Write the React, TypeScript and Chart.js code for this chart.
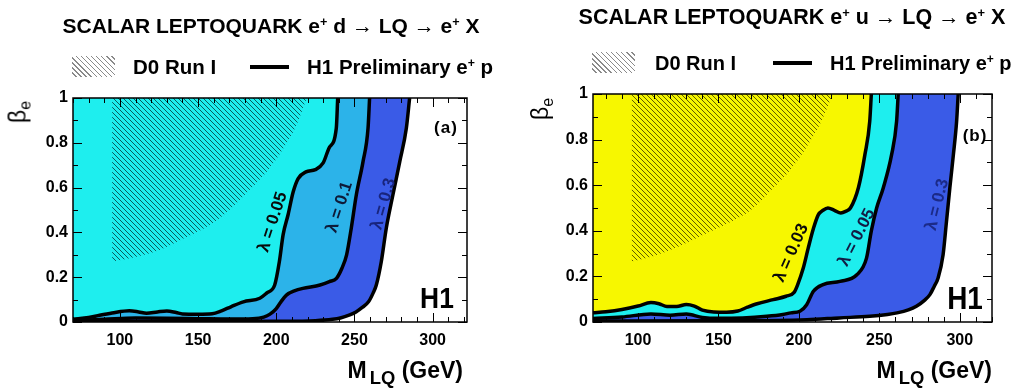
import React, { useEffect, useRef } from "react";
import { Chart, registerables } from "chart.js";

Chart.register(...registerables);

// ---------------- data ----------------
const xTicks = [100, 150, 200, 250, 300];
const yTicks = [0, 0.2, 0.4, 0.6, 0.8, 1];
const yTickLabels = ["0", "0.2", "0.4", "0.6", "0.8", "1"];

// panel (a): e+ d -> LQ -> e+ X
const massA_D0 = [95, 110, 125, 140, 159, 170, 183, 195, 205, 213, 219.5];
const betaA_D0 = [0.27, 0.29, 0.32, 0.37, 0.44, 0.5, 0.59, 0.68, 0.78, 0.88, 1];

const massA_l005 = [70, 80, 87, 95, 106, 112, 117, 124, 130, 136, 140, 150, 159, 165, 171, 179, 189.5, 194, 199, 202, 204.4, 207.6, 210.8, 214, 219, 225, 230, 234, 238.4, 239.3];
const betaA_l005 = [0.012, 0.02, 0.03, 0.04, 0.05, 0.045, 0.039, 0.045, 0.049, 0.042, 0.036, 0.035, 0.037, 0.05, 0.068, 0.09, 0.106, 0.13, 0.165, 0.27, 0.39, 0.48, 0.58, 0.64, 0.67, 0.68, 0.71, 0.78, 0.865, 1];

const massA_l01 = [70, 90, 110, 130, 150, 170, 185, 192, 196, 200, 203, 206.5, 212, 217, 228, 234, 238.5, 242, 245, 248, 251.2, 255.5, 258.7, 259.7];
const betaA_l01 = [0.006, 0.012, 0.018, 0.017, 0.015, 0.013, 0.015, 0.022, 0.035, 0.06, 0.09, 0.12, 0.14, 0.15, 0.165, 0.18, 0.195, 0.24, 0.3, 0.42, 0.567, 0.716, 0.865, 1];

const massA_l03 = [70, 150, 200, 225, 236, 241, 247, 251, 255, 259, 262, 264, 267.2, 270.4, 274.6, 279, 283.2, 285.3];
const betaA_l03 = [0.002, 0.002, 0.003, 0.006, 0.012, 0.018, 0.032, 0.045, 0.065, 0.09, 0.13, 0.165, 0.27, 0.42, 0.567, 0.716, 0.865, 1];

// panel (b): e+ u -> LQ -> e+ X
const massB_D0 = [96, 110, 125, 140, 155, 170, 183, 195, 205, 214, 221];
const betaB_D0 = [0.265, 0.29, 0.33, 0.38, 0.43, 0.49, 0.58, 0.67, 0.77, 0.88, 1];

const massB_l003 = [72, 80, 90, 100, 108, 113, 118, 124, 130, 135, 140, 147, 155, 162, 168, 174, 184, 192, 197, 199, 202.7, 205.8, 209, 212, 215, 218, 222, 226, 229, 232, 237, 241, 244, 245];
const betaB_l003 = [0.04, 0.045, 0.055, 0.07, 0.085, 0.08, 0.068, 0.068, 0.077, 0.07, 0.052, 0.044, 0.043, 0.048, 0.065, 0.08, 0.098, 0.113, 0.13, 0.16, 0.237, 0.325, 0.41, 0.47, 0.49, 0.5, 0.49, 0.478, 0.485, 0.5, 0.59, 0.734, 0.88, 1];

const massB_l005 = [72, 90, 108, 120, 130, 140, 150, 165, 180, 190, 195, 200.6, 204.8, 209, 215, 225.5, 236, 242, 245, 248.3, 252.4, 257.6, 260.7, 261.7];
const betaB_l005 = [0.015, 0.022, 0.035, 0.03, 0.035, 0.02, 0.016, 0.018, 0.025, 0.033, 0.04, 0.047, 0.076, 0.135, 0.164, 0.178, 0.207, 0.28, 0.4, 0.5, 0.588, 0.734, 0.88, 1];

const massB_l03 = [72, 150, 205, 225, 244, 255, 261, 268, 273, 278, 281.4, 284, 286.5, 289.6, 291.7, 293.8, 296, 298, 299];
const betaB_l03 = [0.004, 0.005, 0.01, 0.018, 0.025, 0.033, 0.04, 0.053, 0.069, 0.095, 0.12, 0.155, 0.193, 0.295, 0.44, 0.588, 0.734, 0.88, 1];

// ---------------- styles ----------------
const FONT = '"Liberation Sans", Arial, Helvetica, sans-serif';
const CYAN = "#1EEEEE";
const AZURE = "#2CB3E9";
const ROYAL = "#3A5BE7";
const YELLOW = "#F7F700";

interface Curve { m: number[]; b: number[]; color: string }
interface Label { text: string; m: number; b: number; angle: number; color: string }
interface PanelSpec {
  left: number;
  width: number;
  xMin: number;
  xMax: number;
  yAxisWidth: number;
  padTop: number;
  padRight: number;
  d0m: number[];
  d0b: number[];
  curves: Curve[];
  labels: Label[];
}

const panelA: PanelSpec = {
  left: 0, width: 507, xMin: 70, xMax: 322, yAxisWidth: 73, padTop: 98, padRight: 40,
  d0m: massA_D0, d0b: betaA_D0,
  curves: [
    { m: massA_l005, b: betaA_l005, color: CYAN },
    { m: massA_l01, b: betaA_l01, color: AZURE },
    { m: massA_l03, b: betaA_l03, color: ROYAL },
  ],
  labels: [
    { text: "λ = 0.05", m: 197.8, b: 0.446, angle: -72, color: "#0a0a0a" },
    { text: "λ = 0.1", m: 240.6, b: 0.513, angle: -72, color: "#0e1a38" },
    { text: "λ = 0.3", m: 268.7, b: 0.527, angle: -74, color: "#18247c" },
  ],
};

const panelB: PanelSpec = {
  left: 507, width: 507, xMin: 72, xMax: 320, yAxisWidth: 86, padTop: 94, padRight: 22,
  d0m: massB_D0, d0b: betaB_D0,
  curves: [
    { m: massB_l003, b: betaB_l003, color: YELLOW },
    { m: massB_l005, b: betaB_l005, color: CYAN },
    { m: massB_l03, b: betaB_l03, color: ROYAL },
  ],
  labels: [
    { text: "λ = 0.03", m: 195.3, b: 0.303, angle: -66, color: "#0a0a0a" },
    { text: "λ = 0.05", m: 236, b: 0.37, angle: -63, color: "#121c44" },
    { text: "λ = 0.3", m: 286, b: 0.515, angle: -76, color: "#1b2a88" },
  ],
};

const toPoints = (xs: number[], ys: number[]) => xs.map((x, i) => ({ x, y: ys[i] }));

function hatchPattern(ctx: CanvasRenderingContext2D, color: string) {
  const s = 5;
  const c = document.createElement("canvas");
  c.width = s;
  c.height = s;
  const g = c.getContext("2d")!;
  g.strokeStyle = color;
  g.lineWidth = 1;
  g.beginPath();
  g.moveTo(-1, -1); g.lineTo(s + 1, s + 1);
  g.moveTo(-1, s - 1); g.lineTo(1, s + 1);
  g.moveTo(s - 1, -1); g.lineTo(s + 1, 1);
  g.stroke();
  return ctx.createPattern(c, "repeat")!;
}

const framePlugin = {
  id: "frameTicks",
  afterDatasetsDraw(chart: any) {
    const { ctx, chartArea: a, scales } = chart;
    const x = scales.x, y = scales.y;
    ctx.save();
    ctx.strokeStyle = "#000";
    ctx.lineWidth = 1;
    ctx.beginPath();
    for (let v = Math.ceil(x.min / 10) * 10; v <= x.max + 1e-9; v += 10) {
      const p = Math.round(x.getPixelForValue(v)) + 0.5;
      const L = v % 50 === 0 ? 9 : 5;
      ctx.moveTo(p, a.bottom); ctx.lineTo(p, a.bottom - L);
      ctx.moveTo(p, a.top); ctx.lineTo(p, a.top + L);
    }
    for (let i = 0; i <= 10; i++) {
      const p = Math.round(y.getPixelForValue(i / 10)) + 0.5;
      const L = i % 2 === 0 ? 9 : 5;
      ctx.moveTo(a.left, p); ctx.lineTo(a.left + L, p);
      ctx.moveTo(a.right, p); ctx.lineTo(a.right - L, p);
    }
    ctx.stroke();
    ctx.lineWidth = 1.5;
    ctx.strokeRect(a.left, a.top, a.right - a.left, a.bottom - a.top);
    ctx.restore();
  },
};

function labelPlugin(labels: Label[]) {
  return {
    id: "lambdaLabels",
    afterDatasetsDraw(chart: any) {
      const { ctx, scales } = chart;
      labels.forEach((l) => {
        ctx.save();
        ctx.translate(scales.x.getPixelForValue(l.m), scales.y.getPixelForValue(l.b));
        ctx.rotate((l.angle * Math.PI) / 180);
        ctx.font = `bold 17px ${FONT}`;
        ctx.fillStyle = l.color;
        ctx.textAlign = "center";
        ctx.textBaseline = "middle";
        ctx.fillText(l.text, 0, 0);
        ctx.restore();
      });
    },
  };
}

function Panel({ spec }: { spec: PanelSpec }) {
  const ref = useRef<HTMLCanvasElement>(null);
  useEffect(() => {
    const canvas = ref.current!;
    const ctx = canvas.getContext("2d")!;
    const tickFont = { family: FONT, size: 16, weight: "bold" as const };
    const datasets: any[] = [
      {
        data: toPoints(spec.d0m, spec.d0b),
        borderWidth: 0,
        borderColor: "rgba(0,0,0,0)",
        backgroundColor: hatchPattern(ctx, "rgba(0,0,0,0.62)"),
        fill: "end",
        pointRadius: 0,
        cubicInterpolationMode: "monotone",
      },
      ...spec.curves.map((c) => ({
        data: toPoints(c.m, c.b),
        borderColor: "#000",
        borderWidth: 3.5,
        backgroundColor: c.color,
        fill: "end",
        pointRadius: 0,
        cubicInterpolationMode: "monotone",
      })),
    ];
    const chart = new Chart(ctx, {
      type: "line",
      data: { datasets },
      options: {
        animation: false,
        responsive: false,
        events: [],
        layout: { padding: { left: 0, top: spec.padTop, right: spec.padRight, bottom: 0 } },
        plugins: { legend: { display: false }, tooltip: { enabled: false }, title: { display: false } },
        scales: {
          x: {
            type: "linear",
            min: spec.xMin,
            max: spec.xMax,
            grid: { display: false, drawTicks: false },
            border: { display: false },
            afterBuildTicks: (s: any) => { s.ticks = xTicks.map((v) => ({ value: v })); },
            afterFit: (s: any) => { s.height = 66; },
            ticks: { font: tickFont, color: "#000", padding: 9, maxRotation: 0, autoSkip: false, callback: (v: any) => String(v) },
          },
          y: {
            type: "linear",
            min: 0,
            max: 1,
            grid: { display: false, drawTicks: false },
            border: { display: false },
            afterBuildTicks: (s: any) => { s.ticks = yTicks.map((v) => ({ value: v })); },
            afterFit: (s: any) => { s.width = spec.yAxisWidth; },
            ticks: {
              font: tickFont, color: "#000", padding: 5, autoSkip: false,
              callback: (v: any) => { const i = yTicks.indexOf(Number(v)); return i >= 0 ? yTickLabels[i] : ""; },
            },
          },
        },
      } as any,
      plugins: [framePlugin, labelPlugin(spec.labels)],
    });
    return () => chart.destroy();
  }, [spec]);
  return (
    <canvas
      ref={ref}
      width={spec.width}
      height={388}
      style={{ position: "absolute", left: spec.left, top: 0, width: spec.width, height: 388 }}
    />
  );
}

const abs = (x: number, y: number, extra: React.CSSProperties = {}): React.CSSProperties => ({
  position: "absolute",
  left: x,
  top: y,
  whiteSpace: "nowrap",
  fontFamily: FONT,
  color: "#000",
  lineHeight: 1,
  ...extra,
});

const Sup = ({ children }: { children: React.ReactNode }) => (
  <span style={{ fontSize: "0.6em", position: "relative", top: "-0.55em" }}>{children}</span>
);

function Legend({ x, y, lineX, textX, h1X, size }: { x: number; y: number; lineX: number; textX: number; h1X: number; size: number }) {
  return (
    <>
      <div
        style={{
          position: "absolute", left: x, top: y - 11, width: 43, height: 21,
          background: "repeating-linear-gradient(45deg, #fff 0px, #fff 2.6px, #8a8a8a 2.6px, #8a8a8a 3.6px)",
        }}
      />
      <div style={abs(textX, y, { fontSize: size, fontWeight: "bold", transform: "translateY(-50%)" })}>D0 Run I</div>
      <div style={{ position: "absolute", left: lineX, top: y - 2, width: 39, height: 4, background: "#000" }} />
      <div style={abs(h1X, y, { fontSize: size, fontWeight: "bold", transform: "translateY(-50%)" })}>
        H1 Preliminary e<Sup>+</Sup> p
      </div>
    </>
  );
}

function XTitle({ right, y }: { right: number; y: number }) {
  return (
    <div style={{ ...abs(0, y, { fontSize: 23, fontWeight: "bold", transform: "translateY(-50%)" }), left: undefined, right: 1014 - right }}>
      M<span style={{ fontSize: "0.8em", position: "relative", top: "0.3em", marginLeft: 3 }}>LQ</span> (GeV)
    </div>
  );
}

function YTitle({ x, y }: { x: number; y: number }) {
  return (
    <div style={abs(x, y, { fontSize: 23, transform: "translate(-50%,-50%) rotate(-90deg)" })}>
      β<span style={{ fontSize: "0.7em", position: "relative", top: "0.3em" }}>e</span>
    </div>
  );
}

export default function App() {
  return (
    <div style={{ position: "absolute", left: 0, top: 0, width: 1014, height: 388, background: "#fff", overflow: "hidden" }}>
      <Panel spec={panelA} />
      <Panel spec={panelB} />

      <div style={abs(271, 25, { fontSize: 21, fontWeight: "bold", transform: "translate(-50%,-50%)" })}>
        SCALAR LEPTOQUARK e<Sup>+</Sup> d → LQ → e<Sup>+</Sup> X
      </div>
      <div style={abs(792, 18, { fontSize: 21.5, fontWeight: "bold", transform: "translate(-50%,-50%)" })}>
        SCALAR LEPTOQUARK e<Sup>+</Sup> u → LQ → e<Sup>+</Sup> X
      </div>

      <Legend x={72} y={67} textX={133} lineX={250} h1X={307} size={20.5} />
      <Legend x={592} y={63} textX={655} lineX={773} h1X={830} size={20} />

      <YTitle x={18} y={112} />
      <YTitle x={540} y={109} />
      <XTitle right={463} y={370} />
      <XTitle right={992} y={370} />

      <div style={abs(446, 127, { fontSize: 17, fontWeight: "bold", letterSpacing: 1, transform: "translate(-50%,-50%)" })}>(a)</div>
      <div style={abs(975, 135, { fontSize: 17, fontWeight: "bold", letterSpacing: 1, transform: "translate(-50%,-50%)" })}>(b)</div>

      <div style={abs(437, 298, { fontSize: 30, fontWeight: "bold", transform: "translate(-50%,-50%) scaleX(0.88)" })}>H1</div>
      <div style={abs(965, 298, { fontSize: 31, fontWeight: "bold", transform: "translate(-50%,-50%) scaleX(0.9)" })}>H1</div>
    </div>
  );
}
